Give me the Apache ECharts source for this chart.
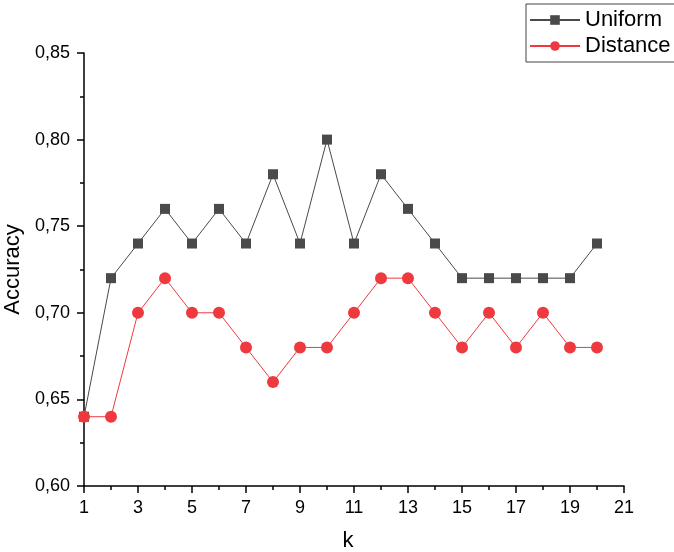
<!DOCTYPE html>
<html><head><meta charset="utf-8">
<script src="https://cdn.jsdelivr.net/npm/echarts@6/dist/echarts.min.js"></script>
<style>html,body{margin:0;padding:0;background:#fff}#c{width:674px;height:552px}</style>
</head><body><div id="c"></div>
<script>
const kValues = [1,2,3,4,5,6,7,8,9,10,11,12,13,14,15,16,17,18,19,20];
const uniform = [0.64,0.72,0.74,0.76,0.74,0.76,0.74,0.78,0.74,0.80,0.74,0.78,0.76,0.74,0.72,0.72,0.72,0.72,0.72,0.74];
const distance = [0.64,0.64,0.70,0.72,0.70,0.70,0.68,0.66,0.68,0.68,0.70,0.72,0.72,0.70,0.68,0.70,0.68,0.70,0.68,0.68];
const seriesNames = ['Uniform','Distance'];

const chart = echarts.init(document.getElementById('c'), null, {renderer:'canvas'});
const font = 'Liberation Sans, Arial, sans-serif';
chart.setOption({
  animation:false,
  backgroundColor:'#fff',
  grid:{left:84,right:50,top:53,bottom:66,containLabel:false,outerBoundsMode:'none'},
  legend:{
    left:526, top:4, orient:'vertical',
    borderColor:'#444', borderWidth:1,
    padding:[5,12,5,3], itemGap:4,
    itemWidth:50, itemHeight:12,
    textStyle:{fontFamily:font,fontSize:22,color:'#000'},
    data:seriesNames
  },
  xAxis:{
    type:'value', min:1, max:21, interval:2,
    name:'k', nameLocation:'middle', nameGap:44,
    nameTextStyle:{fontFamily:font,fontSize:22,color:'#000',padding:[0,12,0,0]},
    axisLine:{show:true,onZero:false,lineStyle:{color:'#000',width:1.5}},
    axisTick:{show:true,inside:false,length:7,lineStyle:{color:'#000',width:1.5}},
    minorTick:{show:true,splitNumber:2,length:4,lineStyle:{color:'#000',width:1.5}},
    axisLabel:{fontFamily:font,fontSize:18,color:'#000',margin:13},
    splitLine:{show:false}
  },
  yAxis:{
    type:'value', min:0.60, max:0.85, interval:0.05,
    name:'Accuracy', nameLocation:'middle', nameGap:55,
    nameTextStyle:{fontFamily:font,fontSize:22,color:'#000'},
    axisLine:{show:true,onZero:false,lineStyle:{color:'#000',width:1.5}},
    axisTick:{show:true,inside:false,length:7,lineStyle:{color:'#000',width:1.5}},
    minorTick:{show:true,splitNumber:2,length:4,lineStyle:{color:'#000',width:1.5}},
    axisLabel:{fontFamily:font,fontSize:18,color:'#000',margin:14,
      formatter:v=>v.toFixed(2).replace('.',',')},
    splitLine:{show:false}
  },
  series:[
    {name:seriesNames[0],type:'line',data:kValues.map((k,i)=>[k,uniform[i]]),
     symbol:'rect',symbolSize:10,
     itemStyle:{color:'#4a4a4a'},lineStyle:{color:'#4a4a4a',width:1}},
    {name:seriesNames[1],type:'line',data:kValues.map((k,i)=>[k,distance[i]]),
     symbol:'circle',symbolSize:12,
     itemStyle:{color:'#ee3a3f'},lineStyle:{color:'#ee3a3f',width:1}}
  ]
});
</script></body></html>
